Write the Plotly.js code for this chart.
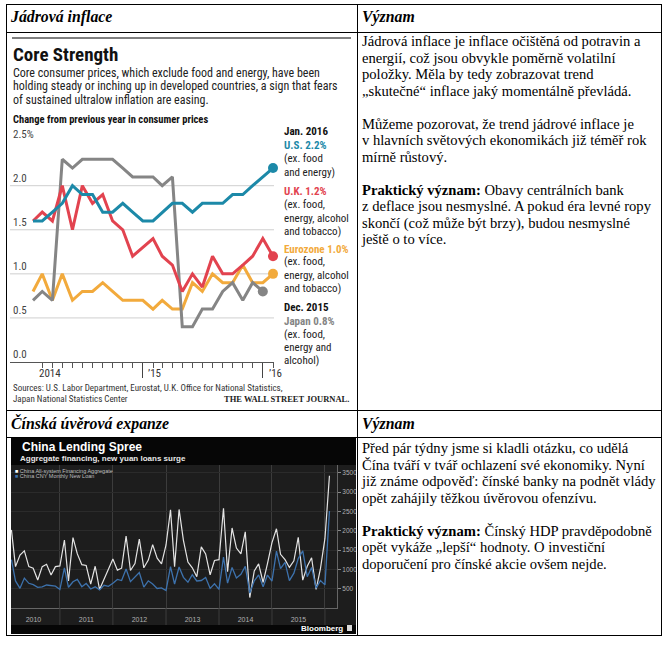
<!DOCTYPE html>
<html><head><meta charset="utf-8">
<script src="https://cdn.plot.ly/plotly-3.0.1.min.js"></script>
<style>
html,body{margin:0;padding:0;background:#fff;width:669px;height:646px;overflow:hidden;}
.ln{position:absolute;background:#000;}
.hd{position:absolute;font-family:"Liberation Serif","Times New Roman",serif;font-weight:bold;font-style:italic;font-size:15.8px;line-height:18px;color:#000;white-space:nowrap;}
.tx{position:absolute;font-family:"Liberation Serif","Times New Roman",serif;font-size:14.6px;line-height:16.5px;color:#000;white-space:nowrap;}
#c1{position:absolute;left:8px;top:33px;width:348px;height:376px;}
#c2{position:absolute;left:11px;top:438px;width:345px;height:196px;}
</style></head><body>
<!-- table grid -->
<div class="ln" style="left:6px;top:4px;width:656px;height:1px"></div>
<div class="ln" style="left:6px;top:32px;width:656px;height:1px"></div>
<div class="ln" style="left:6px;top:410px;width:656px;height:1px"></div>
<div class="ln" style="left:6px;top:437px;width:656px;height:1px"></div>
<div class="ln" style="left:6px;top:635px;width:656px;height:1px"></div>
<div class="ln" style="left:6px;top:4px;width:1px;height:632px"></div>
<div class="ln" style="left:357px;top:4px;width:1px;height:632px"></div>
<div class="ln" style="left:661px;top:4px;width:1px;height:632px"></div>

<div class="hd" style="left:11px;top:8px">Jádrová inflace</div>
<div class="hd" style="left:362px;top:8px">Význam</div>
<div class="hd" style="left:11px;top:415px">Čínská úvěrová expanze</div>
<div class="hd" style="left:362px;top:415px">Význam</div>

<div class="tx" style="left:362px;top:33px">Jádrová inflace je inflace očištěná od potravin a<br>energií, což jsou obvykle poměrně volatilní<br>položky. Měla by tedy zobrazovat trend<br>„skutečné“ inflace jaký momentálně převládá.<br><br>Můžeme pozorovat, že trend jádrové inflace je<br>v hlavních světových ekonomikách již téměř rok<br>mírně růstový.<br><br><b>Praktický význam:</b> Obavy centrálních bank<br>z deflace jsou nesmyslné. A pokud éra levné ropy<br>skončí (což může být brzy), budou nesmyslné<br>ještě o to více.</div>

<div class="tx" style="left:362px;top:440px">Před pár týdny jsme si kladli otázku, co udělá<br>Čína tváří v tvář ochlazení své ekonomiky. Nyní<br>již známe odpověď: čínské banky na podnět vlády<br>opět zahájily těžkou úvěrovou ofenzívu.<br><br><b>Praktický význam:</b> Čínský HDP pravděpodobně<br>opět vykáže „lepší“ hodnoty. O investiční<br>doporučení pro čínské akcie ovšem nejde.</div>

<div id="c1"></div>
<div id="c2"></div>

<script>
// ---------- Chart 1 data: core inflation, % change y/y ----------
const months1 = ['2014-01','2014-02','2014-03','2014-04','2014-05','2014-06','2014-07','2014-08','2014-09','2014-10','2014-11','2014-12',
                 '2015-01','2015-02','2015-03','2015-04','2015-05','2015-06','2015-07','2015-08','2015-09','2015-10','2015-11','2015-12','2016-01'];
const usCore   = [1.6,1.6,1.7,1.8,2.0,1.9,1.9,1.7,1.7,1.8,1.7,1.6,1.6,1.7,1.8,1.8,1.7,1.8,1.8,1.8,1.9,1.9,2.0,2.1,2.2];
const ukCore   = [1.6,1.7,1.6,2.0,1.5,2.0,1.8,1.9,1.6,1.5,1.2,1.3,1.4,1.2,1.1,0.8,1.0,0.85,1.2,1.0,1.0,1.1,1.2,1.4,1.2];
const ezCore   = [0.8,1.0,0.7,1.0,0.7,0.8,0.8,0.9,0.8,0.7,0.7,0.7,0.6,0.7,0.6,0.6,0.9,0.8,1.0,0.9,0.9,1.1,0.9,0.9,1.0];
const jpCore   = [0.7,0.8,0.7,2.3,2.2,2.3,2.3,2.3,2.3,2.2,2.1,2.1,2.1,2.0,2.1,0.4,0.4,0.6,0.6,0.8,0.9,0.7,0.9,0.8];
const yTickVals1 = [0,0.5,1,1.5,2,2.5];
const yTickText1 = ['0.0','0.5','1.0','1.5','2.0','2.5%'];
const yGridVals1 = [0.5,1,1.5,2];
const xMajor1 = ['2015-01-01','2016-01-01'];

// ---------- Chart 2 data: China, bn yuan ----------
const tsf = [2020,1070,1370,1480,1070,1030,725,1070,1130,855,1070,1090,
             1760,700,1820,1400,1120,1100,620,1080,480,760,1000,1270,
             980,1030,1860,970,1150,1780,1040,1240,1640,1290,1140,1630,
             2540,1070,2550,1750,1190,1040,810,1580,1400,860,1230,1250,
             2580,940,2070,1550,1400,1970,270,960,1140,660,1150,1690,
             2050,1390,1250,1050,1220,1830,720,1080,1300,480,1020,1800,
             3420];
const newLoans = [1250,700,510,774,639,603,533,545,595,587,564,481,
             1040,536,679,740,551,634,492,548,470,587,562,641,
             738,711,1010,682,793,920,540,704,623,505,522,454,
             1070,620,1060,793,667,860,700,711,787,506,625,483,
             1320,645,1050,775,871,1080,385,702,857,548,853,697,
             1470,1020,1180,708,901,1280,1480,810,1050,514,709,598,
             2510];
const yTickVals2 = [500,1000,1500,2000,2500,3000,3500];
const yearTicks2 = ['2011-01-01','2012-01-01','2013-01-01','2014-01-01','2015-01-01','2016-01-01'];

// month labels for chart 2 (Jan 2010 .. Jan 2016)
const months2 = [];
for (let y = 2010; y <= 2016; y++) for (let m = 1; m <= 12; m++) {
  if (months2.length < tsf.length) months2.push(y + '-' + String(m).padStart(2,'0'));
}

// ================= Chart 1 =================
const F1 = '"Liberation Sans Narrow","Arial Narrow","Roboto Condensed",sans-serif';
const C_US = '#1c89a8', C_UK = '#e2434f', C_EZ = '#f2aa3c', C_JP = '#858585';
const L1 = {l:2, r:82, t:91, b:47};
const PW1 = 348 - L1.l - L1.r, PH1 = 376 - L1.t - L1.b;
function A1(text, px, py, size, color, extra) {
  return Object.assign({xref:'paper', yref:'paper', x:(px-8-L1.l)/PW1, y:(409-L1.b-py)/PH1,
    text:text, showarrow:false, xanchor:'left', yanchor:'middle', align:'left', borderpad:0,
    font:{family:F1, size:size, color:color}}, extra||{});
}
function line1(name, y, color){
  return {type:'scatter', mode:'lines', name:name, x:months1.slice(0,y.length), y:y,
    xperiod:'M1', xperiodalignment:'end', line:{color:color, width:3}, hoverinfo:'skip'};
}
function dot1(y, color){
  const i = y.length-1;
  return {type:'scatter', mode:'markers', x:[months1[i]], y:[y[i]], xperiod:'M1', xperiodalignment:'end',
    marker:{color:color, size:10}, cliponaxis:false, hoverinfo:'skip'};
}
const last = a => a[a.length-1].toFixed(1);
const traces1 = [line1('Eurozone', ezCore, C_EZ), line1('Japan', jpCore, C_JP), line1('U.K.', ukCore, C_UK), line1('U.S.', usCore, C_US),
  dot1(ezCore, C_EZ), dot1(jpCore, C_JP), dot1(ukCore, C_UK), dot1(usCore, C_US)];

const LS = 11;
const ann1 = [
  A1('<b>Core Strength</b>', 12, 55, 19, '#111'),
  A1('Core consumer prices, which exclude food and energy, have been', 12, 72.5, 12, '#222'),
  A1('holding steady or inching up in developed countries, a sign that fears', 12, 86.5, 12, '#222'),
  A1('of sustained ultralow inflation are easing.', 12, 100.5, 12, '#222'),
  A1('<b>Change from previous year in consumer prices</b>', 12, 119, 10.5, '#111'),
  A1('<b>Jan. 2016</b>', 283, 131, LS, '#111'),
  A1('<b>U.S. ' + last(usCore) + '%</b>', 283, 145, LS, C_US),
  A1('(ex. food', 283, 158.5, LS, '#222'),
  A1('and energy)', 283, 172, LS, '#222'),
  A1('<b>U.K. ' + last(ukCore) + '%</b>', 283, 191, LS, C_UK),
  A1('(ex. food,', 283, 204.5, LS, '#222'),
  A1('energy, alcohol', 283, 218, LS, '#222'),
  A1('and tobacco)', 283, 231.5, LS, '#222'),
  A1('<b>Eurozone ' + last(ezCore) + '%</b>', 283, 249, LS, C_EZ),
  A1('(ex. food,', 283, 262, LS, '#222'),
  A1('energy, alcohol', 283, 275, LS, '#222'),
  A1('and tobacco)', 283, 288, LS, '#222'),
  A1('<b>Dec. 2015</b>', 283, 307.5, LS, '#111'),
  A1('<b>Japan ' + last(jpCore) + '%</b>', 283, 321, LS, C_JP),
  A1('(ex. food,', 283, 334, LS, '#222'),
  A1('energy and', 283, 347, LS, '#222'),
  A1('alcohol)', 283, 360, LS, '#222'),
  A1('2014', 49.5, 373, 11, '#333', {xanchor:'center'}),
  A1('’15', 147, 373, 11, '#333'),
  A1('’16', 268, 373, 11, '#333'),
  A1('Sources: U.S. Labor Department, Eurostat, U.K. Office for National Statistics,', 12, 388, 9, '#333'),
  A1('Japan National Statistics Center', 12, 399, 9, '#333'),
  A1('<b>THE WALL STREET JOURNAL.</b>', 350, 399, 8.5, '#222', {xanchor:'right', font:{family:'"Liberation Serif",serif', size:8.5, color:'#222'}})
];
const shapes1 = yGridVals1.map(v => ({type:'line', xref:'paper', yref:'y', x0:0, x1:1, y0:v, y1:v, line:{color:'#cfcfcf', width:1}, layer:'below'}));
shapes1.push({type:'line', xref:'paper', yref:'paper', x0:(12-8-L1.l)/PW1, x1:(351-8-L1.l)/PW1, y0:(409-L1.b-38)/PH1, y1:(409-L1.b-38)/PH1, line:{color:'#555', width:1.5}});

Plotly.newPlot('c1', traces1, {
  width:348, height:376, margin:{l:L1.l, r:L1.r, t:L1.t, b:L1.b, pad:0},
  paper_bgcolor:'#fff', plot_bgcolor:'#fff', showlegend:false,
  font:{family:F1},
  xaxis:{type:'date', range:['2013-11-23','2016-02-04'], tickmode:'array', tickvals:xMajor1, showticklabels:false,
    ticks:'outside', ticklen:15, tickwidth:1.3, tickcolor:'#444', showgrid:false, zeroline:false,
    showline:true, linecolor:'#555', linewidth:1.3,
    minor:{tickmode:'linear', tick0:'2013-12-01', dtick:'M1', ticks:'outside', ticklen:5, tickwidth:1, tickcolor:'#555', showgrid:false}},
  yaxis:{range:[0,2.7], tickmode:'array', tickvals:yTickVals1, ticktext:yTickText1, ticklabelposition:'inside top',
    showgrid:false, zeroline:false, showline:false, ticks:'', tickfont:{family:F1, size:11, color:'#444'}},
  annotations:ann1, shapes:shapes1
}, {staticPlot:true});

// ================= Chart 2 =================
const F2 = '"Liberation Sans",Arial,sans-serif';
const L2 = {l:0, r:19, t:27, b:26};
const PW2 = 345 - L2.l - L2.r, PH2 = 196 - L2.t - L2.b;
const px2 = x => (x-11-L2.l)/PW2, py2 = y => (608-y)/PH2;
function A2(text, x, y, size, color, extra){
  return Object.assign({xref:'paper', yref:'paper', x:px2(x), y:py2(y), text:text, showarrow:false,
    xanchor:'left', yanchor:'middle', borderpad:0, font:{family:F2, size:size, color:color}}, extra||{});
}
const traces2 = [
  {type:'scatter', mode:'lines', name:'China All-system Financing Aggregate', x:months2, y:tsf, xperiod:'M1', xperiodalignment:'end',
   line:{color:'#e4e4e4', width:1.2}, hoverinfo:'skip'},
  {type:'scatter', mode:'lines', name:'China CNY Monthly New Loan', x:months2, y:newLoans, xperiod:'M1', xperiodalignment:'end',
   line:{color:'#3d72ad', width:1.3}, hoverinfo:'skip'}
];
const shapes2 = [
  {type:'rect', xref:'paper', yref:'paper', x0:0, x1:px2(356), y0:py2(625), y1:1, fillcolor:'#1d1d1d', line:{width:0}, layer:'below'},
  {type:'rect', xref:'paper', yref:'paper', x0:px2(347), x1:px2(352), y0:py2(631), y1:py2(625), fillcolor:'#d8d8d8', line:{width:0}}
].concat(yearTicks2.map(d => ({type:'line', xref:'x', yref:'paper', x0:d, x1:d, y0:py2(625), y1:0, line:{color:'#3c3c3c', width:1}})));
const ann2 = [
  A2('<b>China Lending Spree</b>', 21, 447, 12, '#ffffff', {font:{family:'"Liberation Sans Narrow","Liberation Sans",sans-serif', size:12, color:'#fff'}}),
  A2('<b>Aggregate financing, new yuan loans surge</b>', 19, 458, 8, '#e8e8e8'),
  A2('<span style="color:#ffffff">■</span> ' + traces2[0].name, 14, 471, 5.5, '#bdbdbd'),
  A2('<span style="color:#3d72ad">■</span> ' + traces2[1].name, 14, 476, 5.5, '#bdbdbd'),
  A2('<b>Bloomberg</b>', 344, 628.5, 8, '#ffffff', {xanchor:'right'})
];
Plotly.newPlot('c2', traces2, {
  width:345, height:196, margin:{l:L2.l, r:L2.r, t:L2.t, b:L2.b, pad:0},
  paper_bgcolor:'#060606', plot_bgcolor:'#1d1d1d', showlegend:false,
  xaxis:{type:'date', range:['2010-01-29','2016-03-24'], tick0:'2010-01-01', dtick:'M12', ticklabelmode:'period', tickformat:'%Y',
    showgrid:true, gridcolor:'#3c3c3c', gridwidth:1, ticks:'', showline:true, linecolor:'#666', zeroline:false,
    ticklabelstandoff:5, tickfont:{family:F2, size:7, color:'#b0b0b0'}},
  yaxis:{side:'right', range:[0,3700], tickmode:'array', tickvals:yTickVals2, showgrid:true, gridcolor:'#2b2b2b',
    ticks:'outside', ticklen:3, tickcolor:'#888', showline:true, linecolor:'#666', zeroline:false,
    tickfont:{family:F2, size:6.5, color:'#b0b0b0'}},
  annotations:ann2, shapes:shapes2
}, {staticPlot:true});
</script>
</body></html>
